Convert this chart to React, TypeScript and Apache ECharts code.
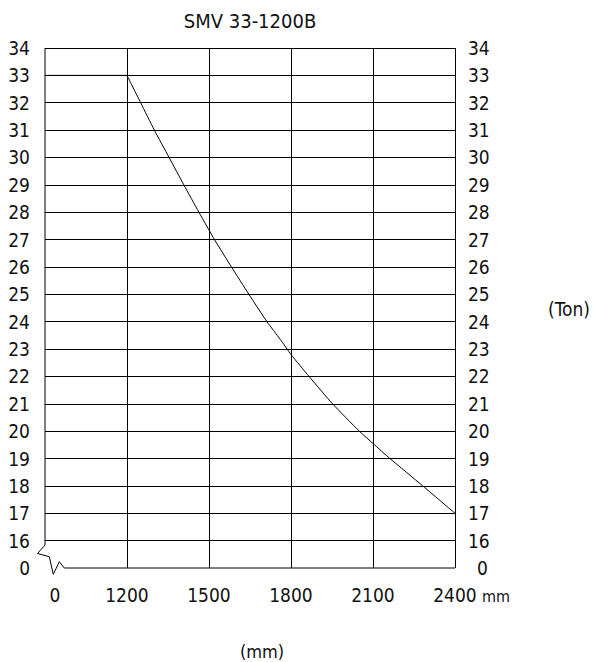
import React, { useEffect, useRef } from 'react';
import * as echarts from 'echarts';

const titleText = 'SMV 33-1200B';
const xTickMm = [0, 1200, 1500, 1800, 2100, 2400];
const yTickTon = [0, 16, 17, 18, 19, 20, 21, 22, 23, 24, 25, 26, 27, 28, 29, 30, 31, 32, 33, 34];
const flatMm = [0, 1200];
const flatTon = [33, 33];
const curveMm = [1200, 1250, 1300, 1354, 1408, 1463, 1500, 1520, 1582, 1646, 1712, 1761, 1800, 1866, 1952, 2050, 2100, 2162, 2282, 2400];
const curveTon = [33, 32, 31, 30, 29, 28, 27.35, 27, 26, 25, 24, 23.35, 22.8, 22, 21, 20, 19.55, 19, 18, 17];
const xUnit = 'mm';
const xName = '(mm)';
const yName = '(Ton)';

const FONT = '"DejaVu Sans Condensed", "Liberation Sans Narrow", sans-serif';

// broken-axis scale mapping (0..1200 compressed to one step, 0..16 compressed to one step)
function mmToPos(mm: number): number {
  if (mm <= 1200) return mm / 1200;
  return 1 + (mm - 1200) / 300;
}
function tonToPos(t: number): number {
  if (t <= 16) return t / 16;
  return t - 15;
}

export default function App() {
  const ref = useRef<HTMLDivElement>(null);

  useEffect(() => {
    if (!ref.current) return;
    const chart = echarts.init(ref.current, null, { renderer: 'svg' });
    const labelStyle = { fontFamily: FONT, fontSize: 19, color: '#111' };
    const option: any = {
      animation: false,
      backgroundColor: '#fff',
      grid: { left: 45, right: 145, top: 48, bottom: 94, containLabel: false },
      xAxis: {
        type: 'value',
        min: 0,
        max: 5,
        interval: 1,
        axisLine: { show: false },
        axisTick: { show: false },
        splitLine: { show: true, showMinLine: false, lineStyle: { color: '#000', width: 1 } },
        axisLabel: {
          ...labelStyle,
          margin: 17,
          formatter: (v: number) => {
            const i = Math.round(v);
            if (i === 0) return '{z|' + xTickMm[0] + '}';
            return String(xTickMm[i]);
          },
          rich: { z: { ...labelStyle, padding: [0, 0, 0, 20] } },
        },
      },
      yAxis: [
        {
          type: 'value',
          min: 0,
          max: 19,
          interval: 1,
          position: 'left',
          axisLine: { show: false },
          axisTick: { show: false },
          splitLine: { show: true, showMinLine: false, lineStyle: { color: '#000', width: 1 } },
          axisLabel: {
            ...labelStyle,
            margin: 15,
            align: 'right',
            formatter: (v: number) => String(yTickTon[Math.round(v)]),
          },
        },
        {
          type: 'value',
          min: 0,
          max: 19,
          interval: 1,
          position: 'right',
          axisLine: { show: false },
          axisTick: { show: false },
          splitLine: { show: false },
          axisLabel: {
            ...labelStyle,
            margin: 13,
            align: 'left',
            formatter: (v: number) => {
              const i = Math.round(v);
              if (i === 0) return '{z|' + yTickTon[0] + '}';
              return String(yTickTon[i]);
            },
            rich: { z: { ...labelStyle, padding: [0, 0, 0, 9] } },
          },
        },
      ],
      series: [
        {
          type: 'line',
          data: flatMm.map((m, i) => [mmToPos(m), tonToPos(flatTon[i])]),
          showSymbol: false,
          lineStyle: { color: '#000', width: 1 },
        },
        {
          type: 'line',
          data: curveMm.map((m, i) => [mmToPos(m), tonToPos(curveTon[i])]),
          showSymbol: false,
          smooth: 0.2,
          lineStyle: { color: '#000', width: 1 },
        },
      ],
    };
    chart.setOption(option);

    const tl = chart.convertToPixel({ gridIndex: 0 }, [0, 19]) as number[];
    const bl = chart.convertToPixel({ gridIndex: 0 }, [0, 0]) as number[];
    const br = chart.convertToPixel({ gridIndex: 0 }, [5, 0]) as number[];
    const x0 = bl[0];
    const y0 = bl[1];
    const borderPts = [
      [tl[0], tl[1]],
      [x0, y0 - 23],
      [x0 - 7.5, y0 - 14.5],
      [x0 + 4.3, y0 - 11.3],
      [x0 + 8.3, y0 + 6.3],
      [x0 + 14.3, y0 - 6.3],
      [x0 + 19.3, y0],
      [br[0], br[1]],
    ];
    const gridCenterX = (bl[0] + br[0]) / 2;

    const txt = (text: string, x: number, y: number, size: number) => ({
      type: 'text',
      x,
      y,
      style: {
        text,
        fontFamily: FONT,
        fontSize: size,
        fill: '#111',
        align: 'center',
        verticalAlign: 'middle',
        textAlign: 'center',
        textVerticalAlign: 'middle',
      },
    });

    chart.setOption({
      graphic: [
        {
          type: 'polyline',
          shape: { points: borderPts },
          style: { stroke: '#000', lineWidth: 1, fill: 'none' },
        },
        txt(titleText, gridCenterX, 21, 20),
        txt(xUnit, br[0] + 41, y0 + 28, 16),
        txt(xName, 262, 651, 18),
        txt(yName, 569, 309, 19),
      ],
    });

    return () => chart.dispose();
  }, []);

  return (
    <div
      ref={ref}
      style={{ position: 'fixed', left: 0, top: 0, width: 600, height: 662, background: '#fff' }}
    />
  );
}
